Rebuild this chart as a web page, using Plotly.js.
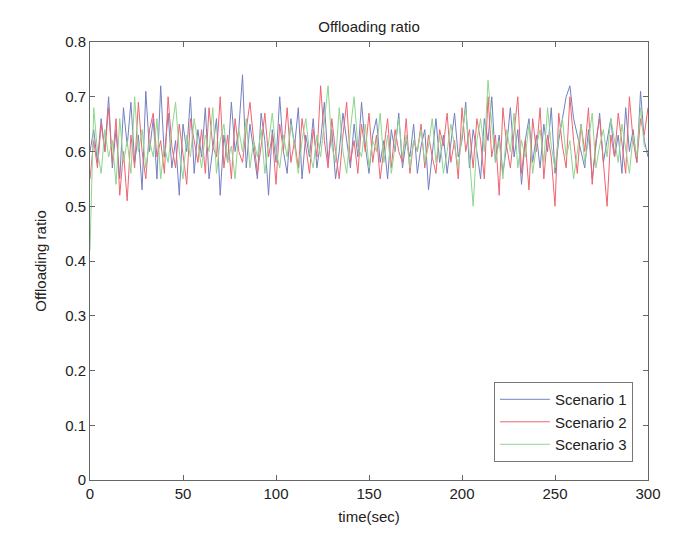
<!DOCTYPE html>
<html>
<head>
<meta charset="utf-8">
<script src="https://cdn.plot.ly/plotly-3.0.1.min.js"></script>
<style>
  body { margin: 0; background: #fff; }
  #chart { width: 685px; height: 536px; }
</style>
</head>
<body>
<div id="chart"></div>
<script>
// sample spacing in seconds (values read every 2 s from the picture)
var t0 = 0;
var dt = 2;

var seriesNames = ["Scenario 1", "Scenario 2", "Scenario 3"];

// Scenario 1 (blue)
var scenario1 = [
  0.60,0.64,0.58,0.66,0.60,0.70,0.57,0.64,0.55,0.68,0.61,
  0.69,0.58,0.63,0.53,0.71,0.60,0.66,0.55,0.72,0.59,
  0.67,0.57,0.62,0.52,0.65,0.60,0.70,0.56,0.64,0.59,
  0.68,0.55,0.61,0.66,0.52,0.63,0.58,0.69,0.60,0.64,
  0.74,0.57,0.65,0.60,0.55,0.67,0.62,0.52,0.64,0.58,
  0.70,0.60,0.56,0.66,0.61,0.68,0.55,0.63,0.59,0.66,
  0.57,0.62,0.69,0.58,0.64,0.55,0.60,0.67,0.62,0.57,
  0.65,0.59,0.69,0.61,0.56,0.63,0.66,0.58,0.62,0.55,
  0.64,0.60,0.67,0.57,0.62,0.59,0.65,0.56,0.61,0.64,
  0.53,0.60,0.66,0.58,0.63,0.56,0.61,0.67,0.59,0.62,
  0.69,0.57,0.64,0.60,0.55,0.66,0.62,0.70,0.58,0.63,
  0.56,0.61,0.68,0.59,0.64,0.54,0.62,0.66,0.58,0.63,
  0.57,0.65,0.60,0.68,0.56,0.62,0.66,0.70,0.72,0.66,
  0.63,0.60,0.57,0.64,0.55,0.61,0.67,0.58,0.62,0.66,
  0.59,0.63,0.56,0.68,0.60,0.64,0.58,0.71,0.62,0.59
];

// Scenario 2 (red)
var scenario2 = [
  0.55,0.62,0.57,0.65,0.60,0.68,0.58,0.66,0.52,0.60,0.51,
  0.63,0.57,0.69,0.60,0.55,0.64,0.67,0.59,0.62,0.56,
  0.70,0.61,0.57,0.65,0.60,0.54,0.66,0.62,0.58,0.64,
  0.56,0.68,0.61,0.59,0.70,0.57,0.63,0.55,0.66,0.60,
  0.58,0.64,0.69,0.62,0.56,0.61,0.67,0.59,0.63,0.54,
  0.65,0.60,0.68,0.58,0.62,0.57,0.66,0.61,0.56,0.64,
  0.59,0.72,0.62,0.57,0.66,0.60,0.55,0.63,0.69,0.58,
  0.62,0.56,0.65,0.60,0.67,0.58,0.63,0.55,0.61,0.66,
  0.57,0.64,0.60,0.58,0.66,0.56,0.62,0.60,0.65,0.57,
  0.63,0.59,0.56,0.64,0.61,0.67,0.58,0.62,0.55,0.68,
  0.60,0.64,0.57,0.66,0.62,0.55,0.70,0.59,0.63,0.52,
  0.68,0.61,0.57,0.64,0.70,0.56,0.62,0.53,0.66,0.60,
  0.68,0.55,0.63,0.59,0.50,0.67,0.61,0.57,0.70,0.62,
  0.56,0.65,0.60,0.68,0.54,0.62,0.66,0.58,0.50,0.63,
  0.59,0.67,0.61,0.56,0.70,0.62,0.58,0.66,0.63,0.68
];

// Scenario 3 (green)
var scenario3 = [
  0.42,0.68,0.60,0.56,0.64,0.59,0.62,0.54,0.66,0.58,0.62,
  0.56,0.70,0.60,0.64,0.57,0.62,0.59,0.66,0.55,0.61,
  0.58,0.64,0.69,0.60,0.55,0.63,0.59,0.66,0.61,0.57,
  0.63,0.60,0.68,0.56,0.62,0.65,0.58,0.61,0.55,0.64,
  0.60,0.66,0.57,0.62,0.59,0.64,0.56,0.61,0.67,0.60,
  0.57,0.63,0.59,0.65,0.61,0.56,0.62,0.66,0.60,0.57,
  0.63,0.59,0.66,0.72,0.61,0.58,0.68,0.60,0.56,0.64,
  0.70,0.61,0.59,0.65,0.57,0.62,0.60,0.67,0.58,0.63,
  0.56,0.61,0.66,0.59,0.63,0.57,0.62,0.60,0.64,0.58,
  0.61,0.66,0.58,0.63,0.56,0.60,0.65,0.61,0.57,0.63,
  0.68,0.59,0.50,0.62,0.66,0.60,0.73,0.65,0.58,0.62,
  0.55,0.64,0.60,0.67,0.57,0.62,0.59,0.65,0.56,0.61,
  0.64,0.58,0.68,0.61,0.57,0.63,0.66,0.59,0.62,0.55,
  0.60,0.65,0.58,0.62,0.67,0.57,0.61,0.64,0.59,0.66,
  0.62,0.58,0.65,0.60,0.56,0.63,0.59,0.68,0.61,0.60
];

var colors = ["#7480c0", "#ef6470", "#8fd58f"];
var allSeries = [scenario1, scenario2, scenario3];

var data = allSeries.map(function (vals, i) {
  return {
    y: vals,
    x0: t0,
    dx: dt,
    type: "scatter",
    mode: "lines",
    name: seriesNames[i],
    line: { color: colors[i], width: 1 }
  };
});

var font = { family: "Liberation Sans, Arial, sans-serif", size: 15, color: "#222" };

var axisStyle = {
  showline: true,
  linecolor: "#666",
  linewidth: 1,
  mirror: "ticks",
  ticks: "inside",
  ticklen: 5,
  tickcolor: "#666",
  showgrid: false,
  zeroline: false,
  tickfont: font
};

var layout = {
  width: 685,
  height: 536,
  margin: { l: 90, r: 37, t: 42, b: 56 },
  paper_bgcolor: "#fff",
  plot_bgcolor: "#fff",
  font: font,
  title: { text: "Offloading ratio", font: font, x: 0.5, xref: "paper", y: 0.96 },
  xaxis: Object.assign({}, axisStyle, {
    range: [0, 300],
    dtick: 50,
    title: { text: "time(sec)", font: font, standoff: 10 }
  }),
  yaxis: Object.assign({}, axisStyle, {
    range: [0, 0.8],
    dtick: 0.1,
    tickformat: ".1~f",
    title: { text: "Offloading ratio", font: font, standoff: 14 }
  }),
  showlegend: true,
  legend: {
    x: 0.973, xanchor: "right",
    y: 0.041, yanchor: "bottom",
    bgcolor: "#fff",
    bordercolor: "#777",
    borderwidth: 1,
    font: font,
    itemwidth: 50,
    tracegroupgap: 0
  }
};

Plotly.newPlot("chart", data, layout, { displayModeBar: false, staticPlot: true });
</script>
</body>
</html>
